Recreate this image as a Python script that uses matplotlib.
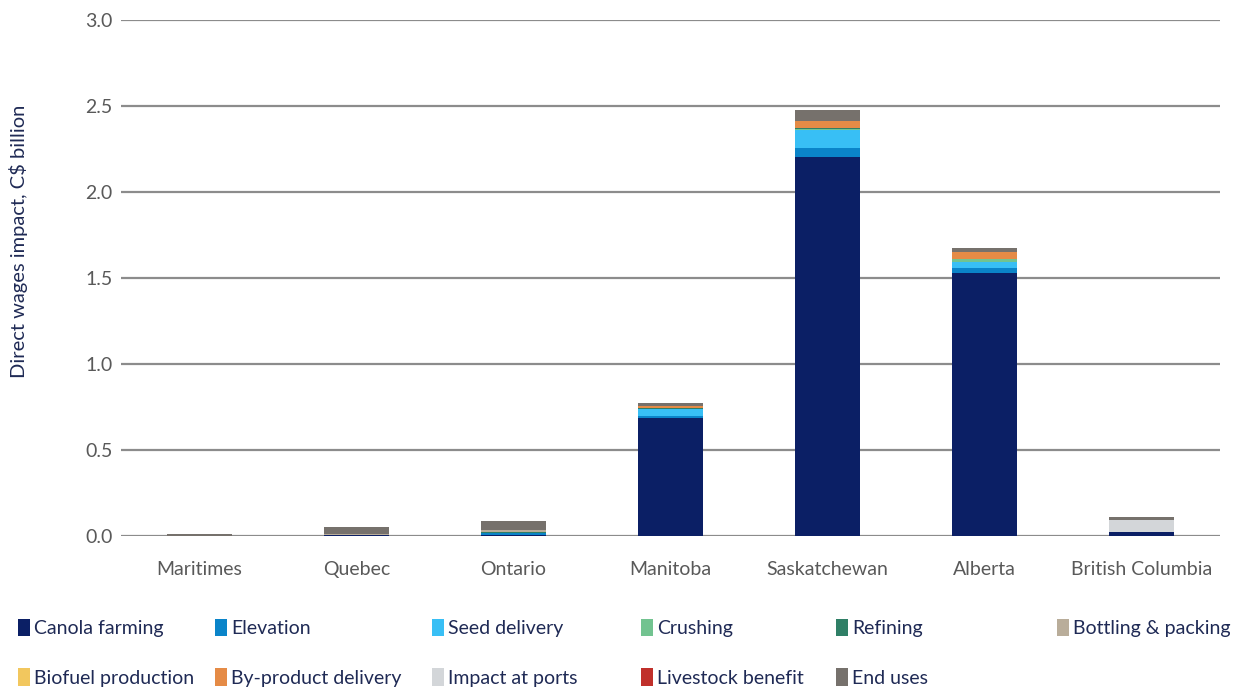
import numpy as np
import matplotlib.pyplot as plt
from matplotlib.patches import Patch

plt.rcParams['font.family'] = ['Lato', 'DejaVu Sans']

regions = ["Maritimes", "Quebec", "Ontario", "Manitoba", "Saskatchewan", "Alberta", "British Columbia"]

# Direct wages impact, C$ billion, per segment
canola_farming = [0.000, 0.004, 0.008, 0.684, 2.203, 1.531, 0.021]
elevation = [0.002, 0.000, 0.008, 0.015, 0.052, 0.026, 0.000]
seed_delivery = [0.000, 0.000, 0.000, 0.037, 0.105, 0.038, 0.000]
crushing = [0.000, 0.000, 0.002, 0.005, 0.006, 0.016, 0.000]
refining = [0.000, 0.000, 0.008, 0.004, 0.006, 0.000, 0.000]
bottling_packing = [0.000, 0.005, 0.006, 0.000, 0.000, 0.000, 0.000]
biofuel_production = [0.000, 0.000, 0.000, 0.000, 0.000, 0.000, 0.000]
byproduct_delivery = [0.000, 0.000, 0.000, 0.010, 0.040, 0.039, 0.000]
impact_at_ports = [0.000, 0.000, 0.003, 0.000, 0.000, 0.000, 0.072]
livestock_benefit = [0.000, 0.000, 0.000, 0.000, 0.000, 0.000, 0.000]
end_uses = [0.012, 0.045, 0.052, 0.016, 0.064, 0.027, 0.016]

series = [
    ("Canola farming", canola_farming, "#0b1f65"),
    ("Elevation", elevation, "#0a84c9"),
    ("Seed delivery", seed_delivery, "#38bff5"),
    ("Crushing", crushing, "#72c390"),
    ("Refining", refining, "#2f7f66"),
    ("Bottling & packing", bottling_packing, "#b9ad9a"),
    ("Biofuel production", biofuel_production, "#f2c75e"),
    ("By-product delivery", byproduct_delivery, "#e58b46"),
    ("Impact at ports", impact_at_ports, "#d3d6d9"),
    ("Livestock benefit", livestock_benefit, "#c0302b"),
    ("End uses", end_uses, "#76716c"),
]

fig = plt.figure(figsize=(12.37, 6.88), dpi=100)
ax = fig.add_axes([121 / 1237, 1 - 536 / 688, 1099 / 1237, 516 / 688])

x = np.arange(len(regions))
bottom = np.zeros(len(regions))
for name, vals, col in series:
    vals = np.array(vals)
    ax.bar(x, vals, width=0.41, bottom=bottom, color=col, zorder=3)
    bottom += vals

ax.set_xlim(-0.5, len(regions) - 0.5)
ax.set_ylim(0, 3.0)
ax.set_yticks(np.arange(0, 3.01, 0.5))
ax.set_yticklabels([f"{v:.1f}" for v in np.arange(0, 3.01, 0.5)])
ax.set_xticks(x)
ax.set_xticklabels(regions)
ax.grid(axis='y', color='#8c8c8c', linewidth=1.6, zorder=0)
ax.tick_params(axis='both', length=0, labelsize=14, labelcolor='#595959')
ax.tick_params(axis='x', pad=18)
ax.tick_params(axis='y', pad=6)
for s in ax.spines.values():
    s.set_visible(False)
ax.set_ylabel("Direct wages impact, C$ billion", fontsize=14.5, color='#1f2a55')
ax.yaxis.set_label_coords(-0.0846, 0.572)

# legend: six columns, two rows, filled row by row
h = [Patch(facecolor=c, label=n) for n, v, c in series]
col_x = [18, 215, 432, 641, 836, 1057]
for j, px in enumerate(col_x):
    items = [h[j]] + ([h[j + 6]] if j + 6 < len(h) else [])
    leg = fig.legend(handles=items, ncol=1, loc='upper left',
                     bbox_to_anchor=((px - 17.6) / 1237, 0.126),
                     frameon=False, fontsize=14, labelcolor='#1f2a55', handlelength=0.6,
                     handleheight=1.0, handletextpad=0.25, labelspacing=1.6)

fig.savefig("out.png", dpi=100)
